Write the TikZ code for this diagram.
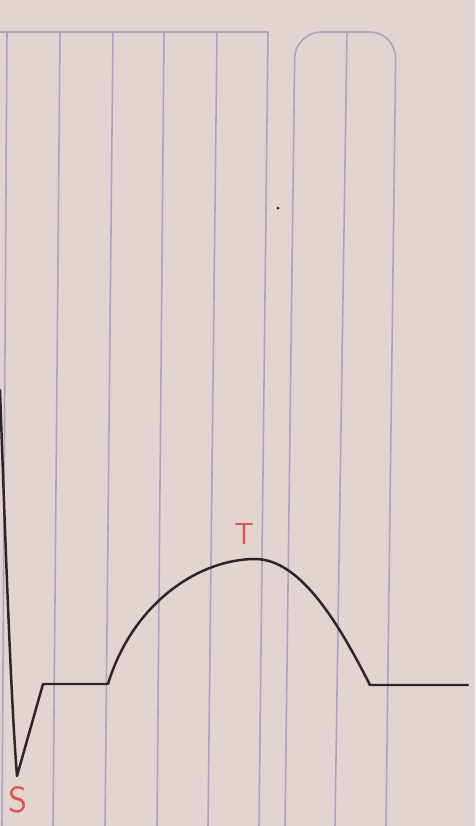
\documentclass[tikz,border=0pt]{standalone}
\usetikzlibrary{positioning}
\definecolor{ecgPaper}{HTML}{E2D5D1}
\definecolor{ecgRule}{HTML}{A9A4C0}
\definecolor{ecgInk}{HTML}{2B2526}
\definecolor{ecgRed}{HTML}{D9574C}
\tikzset{
    rule/.style={draw=ecgRule, line width=0.9pt},
    trace/.style={draw=ecgInk, line width=1.4pt, line join=round, line cap=round},
    wavelabel/.style={text=ecgRed, font=\sffamily\LARGE, inner sep=0pt}
}
\begin{document}
\begin{tikzpicture}[x=0.2mm, y=-0.2mm]
\fill[ecgPaper] (0,0) rectangle (475,826);
\useasboundingbox (0,0) rectangle (475,826);
\foreach \xt/\xb in {7/2,60/53,113/105,164/157,217/208,268/259}
    \draw[rule] (\xt,32) -- (\xb,826);
\draw[rule] (0,32) -- (268,32);
\draw[rule, rounded corners=15] (285,826) -- (295,32) -- (396,32) -- (386,826);
\draw[rule] (347,32) -- (335,826);
\fill[ecgInk] (278,208) circle (1.5);
\coordinate (qstart) at (0,390);
\coordinate (sdip) at (17,776);
\coordinate (jpoint) at (43,684);
\coordinate (tstart) at (108,684);
\coordinate (tpeak) at (255,559);
\coordinate (tend) at (370,685);
\coordinate (baseend) at (468,685);
\draw[trace] (qstart) .. controls (6,560) and (11,700) .. (sdip) -- (jpoint) -- (tstart)
    .. controls (133,602) and (200,559) .. (tpeak)
    .. controls (300,559) and (338,622) .. (tend) -- (baseend);
\node[wavelabel] (tlabel) at (244,534) {T};
\node[wavelabel, font=\sffamily\huge] (slabel) at (18,800) {S};
\end{tikzpicture}
\end{document}
